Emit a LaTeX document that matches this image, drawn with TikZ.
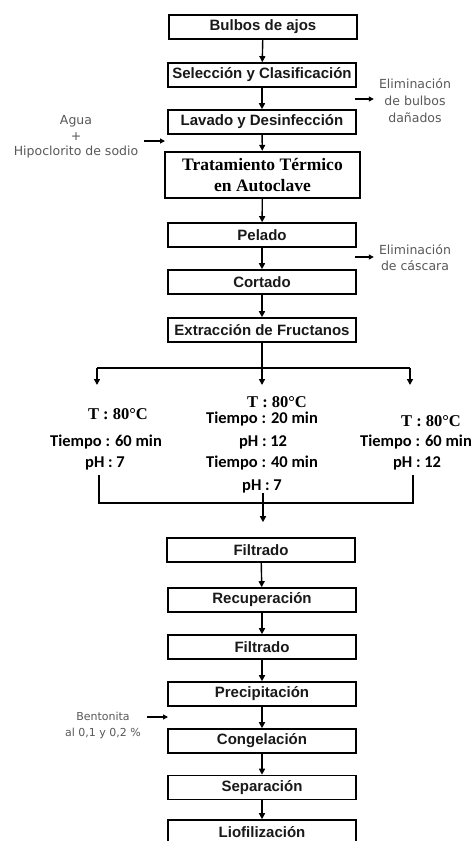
\documentclass[tikz,border=0pt]{standalone}
\usepackage{fontspec}
\setmainfont{Liberation Sans}
\newfontfamily\sidef{DejaVu Sans}
\newfontfamily\serf{Liberation Serif}
\newfontfamily\calf{Carlito}
\usetikzlibrary{arrows.meta}
\begin{document}
\begin{tikzpicture}[x=1pt,y=-1pt,
  stepbox/.style={draw=black, line width=1.6pt, minimum width=188pt, minimum height=24pt, inner sep=0pt, font=\fontsize{15}{18}\selectfont\bfseries, text=black!90},
  bigbox/.style={draw=black, line width=2.4pt, minimum width=195pt, minimum height=46pt, inner sep=0pt, align=center, font=\serf\fontsize{17.5}{21}\selectfont\bfseries},
  flow/.style={line width=1.4pt, -{Triangle[length=6pt,width=6pt]}},
  plainline/.style={line width=1.4pt},
  sidearr/.style={line width=1.1pt, -{Triangle[length=5pt,width=5pt]}},
  sidetxt/.style={font=\sidef\fontsize{12.5}{17}\selectfont, text=black!65, align=center, inner sep=0pt},
  tline/.style={font=\serf\fontsize{16.5}{18}\selectfont\bfseries, anchor=base, inner sep=0pt},
  cline/.style={font=\calf\fontsize{16.5}{18}\selectfont\bfseries, anchor=base, inner sep=0pt},
]
\clip (0,0) rectangle (472,841);
\fill[white] (0,0) rectangle (472,841);

% main boxes
\node[stepbox] (bulbos) at (263,27) {Bulbos de ajos};
\node[stepbox] (selec) at (262,75) {Selección y Clasificación};
\node[stepbox] (lavado) at (262,122) {Lavado y Desinfección};
\node[bigbox] (trat) at (262.5,175) {Tratamiento Térmico\\en Autoclave};
\node[stepbox] (pelado) at (262,235) {Pelado};
\node[stepbox] (cortado) at (262,282) {Cortado};
\node[stepbox] (extr) at (262,330) {Extracción de Fructanos};
\node[stepbox] (filt1) at (261,550) {Filtrado};
\node[stepbox] (recup) at (262,600) {Recuperación};
\node[stepbox] (filt2) at (262,647) {Filtrado};
\node[stepbox] (precip) at (262,694) {Precipitación};
\node[stepbox] (cong) at (262,741) {Congelación};
\node[stepbox] (sep) at (262,787.5) {Separación};
\node[stepbox] (liof) at (262,832) {Liofilización};

% main arrows
\draw[flow] (bulbos) -- (selec);
\draw[flow] (selec) -- (lavado);
\draw[flow] (lavado) -- (trat);
\draw[flow] (trat) -- (pelado);
\draw[flow] (pelado) -- (cortado);
\draw[flow] (cortado) -- (extr);
\draw[flow] (filt1) -- (recup);
\draw[flow] (recup) -- (filt2);
\draw[flow] (filt2) -- (precip);
\draw[flow] (precip) -- (cong);
\draw[flow] (cong) -- (sep);
\draw[flow] (sep) -- (liof);

% side notes
\node[sidetxt] (elim1) at (415,101) {Eliminación\\de bulbos\\dañados};
\coordinate (e1a) at (355,99);
\draw[sidearr, shorten >=5pt] (e1a) -- (e1a -| elim1.west);

\node[sidetxt, font=\sidef\fontsize{12.5}{15.5}\selectfont] (agua) at (76,137) {Agua\\+\\Hipoclorito de sodio};
\coordinate (a1) at (165,141);
\draw[sidearr, shorten <=6pt] (a1 -| agua.east) -- (a1);

\node[sidetxt, font=\sidef\fontsize{12.5}{16}\selectfont] (elim2) at (415,258) {Eliminación\\de cáscara};
\coordinate (e2a) at (355,257);
\draw[sidearr, shorten >=5pt] (e2a) -- (e2a -| elim2.west);

\node[sidetxt, font=\sidef\fontsize{11}{16}\selectfont] (bent) at (103,725) {Bentonita\\al 0,1 y 0,2 \%};
\coordinate (b1) at (168,717);
\draw[sidearr, shorten <=6pt] (b1 -| bent.east) -- (b1);

% branching
\coordinate (brc) at (262,368);
\coordinate (brl) at (97,368);
\coordinate (brr) at (410,368);
\coordinate (tl) at (97,385);
\coordinate (tm) at (262,385);
\coordinate (tr) at (410,385);
\draw[plainline] (extr) -- (brc);
\draw[plainline] (brl) -- (brr);
\draw[flow] (brl) -- (tl);
\draw[flow] (brc) -- (tm);
\draw[flow] (brr) -- (tr);

% conditions
\node[tline] (lt) at (118,419) {T : 80°C};
\node[cline] (ltm) at (106,446) {Tiempo : 60 min};
\node[cline] (lph) at (105,467) {pH : 7};

\node[tline] (mt) at (277,407) {T : 80°C};
\node[cline] (mtm1) at (262,423) {Tiempo : 20 min};
\node[cline] (mph1) at (263,446) {pH : 12};
\node[cline] (mtm2) at (262,467) {Tiempo : 40 min};
\node[cline] (mph2) at (262,490) {pH : 7};

\node[tline] (rt) at (431,426) {T : 80°C};
\node[cline] (rtm) at (416,446) {Tiempo : 60 min};
\node[cline] (rph) at (417,467) {pH : 12};

% merging
\coordinate (ml) at (99,475);
\coordinate (mr) at (413,475);
\coordinate (mm) at (263,493);
\draw[plainline] (ml) -- (99,503) -- (413,503) -- (mr);
\draw[flow, shorten >=15pt] (mm) -- (mm |- filt1.north);
\end{tikzpicture}
\end{document}
